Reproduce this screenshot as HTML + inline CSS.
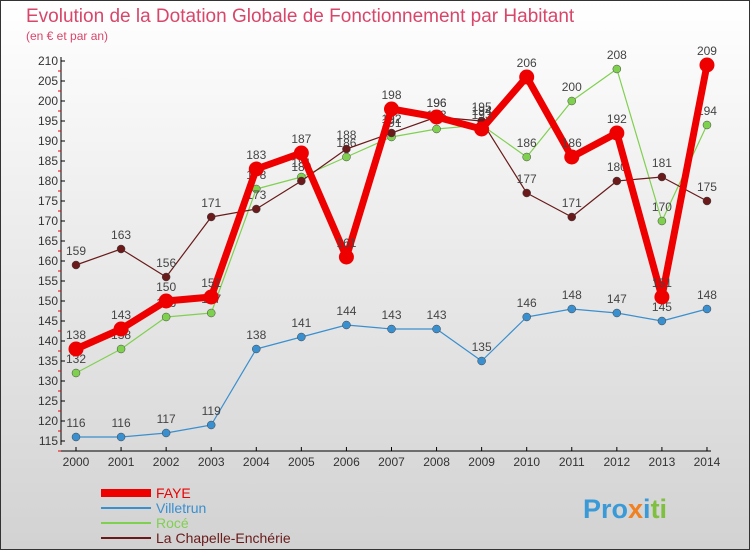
<!DOCTYPE html>
<html><head><meta charset="utf-8"><style>
body{margin:0;width:750px;height:550px;overflow:hidden;font-family:"Liberation Sans",sans-serif}
#c{position:absolute;left:0;top:0;width:748px;height:548px;border:1px solid #333;background:linear-gradient(#fff,#d2d2d2)}
</style></head><body>
<div id="c">
<svg id="s" width="748" height="548" xmlns="http://www.w3.org/2000/svg">
<text x="25" y="21" font-size="19" fill="#d8466a">Evolution de la Dotation Globale de Fonctionnement par Habitant</text>
<text x="25" y="39" font-size="12" fill="#d8466a">(en € et par an)</text>
<g id="axes"></g><g id="series"></g><g id="legend"></g>
<text x="582" y="517" font-size="27" font-weight="bold" fill="#3a9ad8">Pro<tspan fill="#f08020">x</tspan><tspan fill="#3a9ad8">i</tspan><tspan fill="#80c040">ti</tspan></text>
</svg></div>
<script>
const years=[2000,2001,2002,2003,2004,2005,2006,2007,2008,2009,2010,2011,2012,2013,2014];
const faye=[138,143,150,151,183,187,161,198,196,193,206,186,192,151,209];
const villetrun=[116,116,117,119,138,141,144,143,143,135,146,148,147,145,148];
const roce=[132,138,146,147,178,181,186,191,193,194,186,200,208,170,194];
const chapelle=[159,163,156,171,173,180,188,192,196,195,177,171,180,181,175];
const yTicks=[115,120,125,130,135,140,145,150,155,160,165,170,175,180,185,190,195,200,205,210];
const NS="http://www.w3.org/2000/svg";
const X=i=>75+i*45.07, Y=v=>60+(210-v)*4;
function mk(t,a,p){const e=document.createElementNS(NS,t);for(const k in a)e.setAttribute(k,a[k]);p.appendChild(e);return e;}
const ax=document.getElementById('axes');
let l=mk('line',{x1:60,y1:56,x2:60,y2:444,stroke:'#000'},ax);

l=mk('line',{x1:60,y1:450,x2:710,y2:450,stroke:'#000'},ax);

yTicks.forEach(v=>{mk('line',{x1:60,y1:Y(v),x2:64,y2:Y(v),stroke:'#000'},ax);
 mk('line',{x1:57,y1:Y(v)+10,x2:60,y2:Y(v)+10,stroke:'#e00'},ax);
 const t=mk('text',{x:57,y:Y(v)+4,'font-size':12,'text-anchor':'end',fill:'#333'},ax);t.textContent=v;
 });
years.forEach((y,i)=>{mk('line',{x1:X(i),y1:446,x2:X(i),y2:450,stroke:'#000'},ax);
 const t=mk('text',{x:X(i),y:465,'font-size':12,'text-anchor':'middle',fill:'#333'},ax);t.textContent=y;
 });
const sg=document.getElementById('series');
function draw(vals,col,w,r,name,labelCol){
 const g=mk('g',{},sg);
 mk('polyline',{points:vals.map((v,i)=>X(i)+','+Y(v)).join(' '),fill:'none',stroke:col,'stroke-width':w,'stroke-linejoin':'round'},g);
 vals.forEach((v,i)=>{const c=mk('circle',{cx:X(i),cy:Y(v),r:r,fill:col,stroke:'#444','stroke-width':r>5?0:0.5},g);
  
  const t=mk('text',{x:X(i),y:Y(v)-10,'font-size':12,'text-anchor':'middle',fill:'#444'},g);t.textContent=v;
  });
}
draw(villetrun,'#3a8fcf',1.2,4,'villetrun');
draw(roce,'#80d050',1.2,4,'roce');
draw(chapelle,'#6a1a1a',1.2,4,'chapelle');
draw(faye,'#ee0000',7,7.5,'faye');
const lg=document.getElementById('legend');
[['FAYE','#ee0000',8],['Villetrun','#3a8fcf',2],['Rocé','#80d050',2],['La Chapelle-Enchérie','#6a1a1a',2]].forEach((d,i)=>{
 const y=492+i*15;
 const ln=mk('line',{x1:100,y1:y,x2:150,y2:y,stroke:d[1],'stroke-width':d[2]},lg);
 
 const t=mk('text',{x:155,y:y+5,'font-size':14,fill:d[1]},lg);t.textContent=d[0];
 });
</script></body></html>
